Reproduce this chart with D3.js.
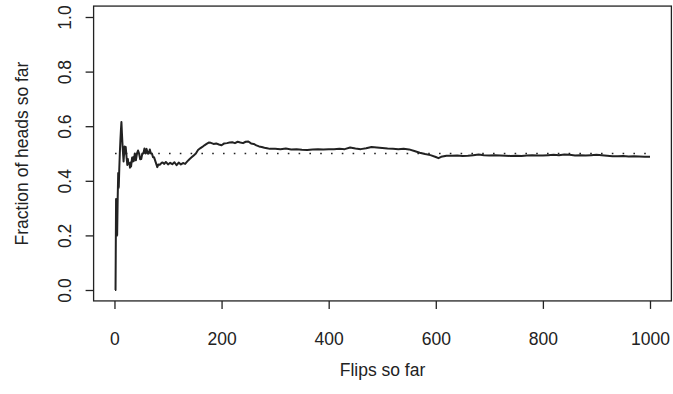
<!DOCTYPE html>
<html>
<head>
<meta charset="utf-8">
<script src="https://cdn.jsdelivr.net/npm/d3@7"></script>
<style>
  html, body { margin: 0; padding: 0; background: #fff; }
  svg { display: block; }
</style>
</head>
<body>
<div id="chart"></div>
<script>
// running fraction of heads
const flips = [
  1, 2, 3, 4, 5, 6, 7, 8, 9, 10, 11, 12, 13, 14, 15, 16, 17, 18, 19, 20,
  21, 22, 23, 24, 25, 26, 27, 28, 29, 30, 31, 32, 33, 34, 35, 36, 37, 38, 39, 40,
  42, 44, 46, 48, 50, 52, 54, 56, 58, 60, 62, 64, 66, 68, 70, 72, 74, 76, 78, 80,
  82, 85, 88, 90, 93, 96, 100, 104, 108, 112, 116, 120, 124, 128, 132, 136, 140, 144, 148, 152,
  156, 160, 164, 168, 172, 176, 180, 185, 190, 195, 200, 205, 210, 215, 220, 225, 230, 235, 240, 245,
  250, 255, 260, 265, 270, 275, 280, 285, 290, 300, 310, 320, 330, 340, 350, 360, 370, 380, 390, 400,
  410, 420, 430, 440, 450, 460, 470, 480, 490, 500, 510, 520, 530, 540, 550, 560, 570, 580, 590, 600,
  605, 610, 620, 630, 640, 650, 660, 670, 680, 690, 700, 710, 720, 730, 740, 750, 760, 770, 780, 790,
  800, 810, 820, 830, 840, 850, 860, 870, 880, 890, 900, 910, 920, 930, 940, 950, 960, 970, 980, 990,
  1000
];
const fractions = [
  0, 0, 0.333, 0.25, 0.2, 0.333, 0.429, 0.375, 0.444, 0.5, 0.545, 0.583, 0.615, 0.571, 0.533, 0.5, 0.471, 0.5, 0.526, 0.5,
  0.524, 0.5, 0.478, 0.458, 0.48, 0.462, 0.463, 0.464, 0.448, 0.467, 0.452, 0.469, 0.485, 0.471, 0.486, 0.472, 0.486, 0.5, 0.487, 0.475,
  0.5, 0.511, 0.5, 0.479, 0.48, 0.5, 0.5, 0.518, 0.5, 0.517, 0.5, 0.5, 0.515, 0.5, 0.5, 0.486, 0.486, 0.474, 0.462, 0.45,
  0.46, 0.459, 0.466, 0.467, 0.462, 0.469, 0.46, 0.466, 0.461, 0.468, 0.457, 0.467, 0.46, 0.465, 0.462, 0.471, 0.479, 0.486, 0.493, 0.5,
  0.513, 0.519, 0.524, 0.53, 0.535, 0.54, 0.539, 0.535, 0.537, 0.533, 0.53, 0.537, 0.538, 0.54, 0.541, 0.538, 0.543, 0.54, 0.538, 0.543,
  0.544, 0.537, 0.535, 0.53, 0.526, 0.524, 0.521, 0.519, 0.517, 0.517, 0.516, 0.518, 0.515, 0.516, 0.514, 0.513, 0.515, 0.516, 0.515, 0.516,
  0.516, 0.517, 0.516, 0.522, 0.518, 0.516, 0.519, 0.524, 0.522, 0.52, 0.518, 0.517, 0.516, 0.517, 0.515, 0.509, 0.503, 0.498, 0.494, 0.487,
  0.483, 0.488, 0.492, 0.492, 0.493, 0.491, 0.492, 0.494, 0.496, 0.494, 0.493, 0.494, 0.493, 0.492, 0.491, 0.492, 0.491, 0.493, 0.494, 0.493,
  0.493, 0.494, 0.495, 0.494, 0.496, 0.495, 0.493, 0.494, 0.493, 0.494, 0.495, 0.494, 0.492, 0.49, 0.49, 0.491, 0.489, 0.49, 0.489, 0.488,
  0.488
];
const xTicks = [0, 200, 400, 600, 800, 1000];
const yTicks = [0, 0.2, 0.4, 0.6, 0.8, 1.0];
const expected = 0.5;

const width = 673;
const height = 394;
const ink = '#222';
const font = '"Liberation Sans", Arial, Helvetica, sans-serif';
const fontSize = 17.5;

// R-style axes: data range plus 4% padding on both sides
const x = d3.scaleLinear().domain([1, 1000]).range([115, 650]);
const y = d3.scaleLinear().domain([0, 1]).range([290, 17]);
const padX = 0.04 * 999;
const padY = 0.04;
const box = {
  left: x(1 - padX),
  right: x(1000 + padX),
  top: y(1 + padY),
  bottom: y(0 - padY),
};

const svg = d3.select('#chart').append('svg')
  .attr('width', width)
  .attr('height', height)
  .attr('font-family', font);

// dotted reference line at 0.5
svg.append('line')
  .attr('x1', x(1))
  .attr('x2', x(1000))
  .attr('y1', y(expected))
  .attr('y2', y(expected))
  .attr('stroke', ink)
  .attr('stroke-width', 1.6)
  .attr('stroke-dasharray', '1.6,9.2');

const line = d3.line()
  .x((d) => x(d[0]))
  .y((d) => y(d[1]));

svg.append('path')
  .datum(flips.map((f, i) => [f, fractions[i]]))
  .attr('fill', 'none')
  .attr('stroke', ink)
  .attr('stroke-width', 2)
  .attr('stroke-linejoin', 'round')
  .attr('d', line);

// frame
svg.append('rect')
  .attr('x', box.left)
  .attr('y', box.top)
  .attr('width', box.right - box.left)
  .attr('height', box.bottom - box.top)
  .attr('fill', 'none')
  .attr('stroke', ink)
  .attr('stroke-width', 1.3);

// x axis
const xAxis = svg.append('g')
  .attr('transform', `translate(0,${box.bottom})`)
  .call(d3.axisBottom(x).tickValues(xTicks).tickSize(8).tickPadding(24)
    .tickSizeOuter(0).tickFormat(d3.format('d')));
xAxis.select('.domain').remove();
xAxis.selectAll('line').attr('stroke', ink).attr('stroke-width', 1.3);
xAxis.selectAll('text')
  .attr('fill', ink)
  .attr('font-size', fontSize)
  .attr('font-family', font);

// y axis, labels turned like R's default las = 0
const yAxis = svg.append('g')
  .attr('transform', `translate(${box.left},0)`)
  .call(d3.axisLeft(y).tickValues(yTicks).tickSize(8).tickFormat(d3.format('.1f')));
yAxis.select('.domain').remove();
yAxis.selectAll('line').attr('stroke', ink).attr('stroke-width', 1.3);
yAxis.selectAll('text')
  .attr('fill', ink)
  .attr('font-size', fontSize)
  .attr('font-family', font)
  .attr('text-anchor', 'middle')
  .attr('dy', '0.35em')
  .attr('x', 0)
  .attr('transform', 'translate(-29,0) rotate(-90)');

// axis titles
svg.append('text')
  .attr('x', (box.left + box.right) / 2)
  .attr('y', 376)
  .attr('text-anchor', 'middle')
  .attr('fill', ink)
  .attr('font-size', fontSize)
  .text('Flips so far');

svg.append('text')
  .attr('transform', `translate(22,${(box.top + box.bottom) / 2}) rotate(-90)`)
  .attr('text-anchor', 'middle')
  .attr('dy', '0.35em')
  .attr('fill', ink)
  .attr('font-size', fontSize)
  .text('Fraction of heads so far');
</script>
</body>
</html>
